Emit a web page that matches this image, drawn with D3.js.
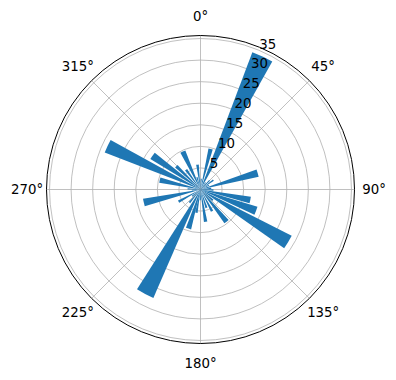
<!DOCTYPE html>
<html>
<head>
<meta charset="utf-8">
<script src="https://cdn.jsdelivr.net/npm/d3@7"></script>
<style>
  html, body { margin: 0; padding: 0; background: #ffffff; }
  svg { display: block; }
  text { font-family: "DejaVu Sans", sans-serif; font-size: 13.33px; fill: #000; }
</style>
</head>
<body>
<svg id="chart" width="396" height="380"></svg>
<script>
// ---- data (angles in degrees, clockwise from north) ----
const barAngles = [353, 4, 14, 25, 36, 45, 54, 63, 74, 84, 92, 102, 111, 121, 131, 141, 152, 162, 171, 181, 190, 197, 208, 220, 231, 241, 257, 266, 273, 283, 295, 305, 314, 324, 335, 344];
const barValues = [5.8, 2.5, 9.7, 34.0, 2.0, 3.0, 3.7, 2.2, 13.8, 2.5, 3.0, 11.8, 13.8, 23.7, 3.8, 9.6, 5.7, 4.5, 7.6, 2.5, 5.5, 9.5, 27.4, 4.0, 2.5, 5.8, 13.5, 2.0, 3.0, 9.7, 23.8, 13.6, 7.8, 5.7, 9.7, 3.0];
const barWidths = [6, 6, 6, 8.6, 6, 6, 6, 6, 7.5, 6, 6, 7.5, 8.2, 8.2, 6, 7.5, 6, 6, 6, 6, 6, 7.5, 9, 6, 6, 6, 7.5, 6, 6, 7.5, 7.8, 7.5, 6, 6, 7.5, 6];
const rTicks = [5, 10, 15, 20, 25, 30, 35];
const thetaTicks = [0, 45, 90, 135, 180, 225, 270, 315];
const thetaLabels = ["0°", "45°", "90°", "135°", "180°", "225°", "270°", "315°"];
const rMax = 35.7;

// ---- layout ----
const cx = 200.5, cy = 189.5, R = 154;
const svg = d3.select("#chart");
const g = svg.append("g").attr("transform", `translate(${cx},${cy})`);

const r = d3.scaleLinear().domain([0, rMax]).range([0, R]);
const rad = d3.scaleLinear().domain([0, 360]).range([0, 2 * Math.PI]);

// grid circles
g.append("g").selectAll("circle").data(rTicks).join("circle")
  .attr("r", d => r(d)).attr("fill", "none")
  .attr("stroke", "#b0b0b0").attr("stroke-width", 0.8);

// angular grid lines
g.append("g").selectAll("line").data(thetaTicks).join("line")
  .attr("x1", 0).attr("y1", 0)
  .attr("x2", d => R * Math.sin(rad(d)))
  .attr("y2", d => -R * Math.cos(rad(d)))
  .attr("stroke", "#b0b0b0").attr("stroke-width", 0.8);

// bars
const bars = barAngles.map((a, i) => ({ a, v: barValues[i], w: barWidths[i] }));
const arc = d3.arc()
  .innerRadius(0)
  .outerRadius(d => r(d.v))
  .startAngle(d => rad(d.a - d.w / 2))
  .endAngle(d => rad(d.a + d.w / 2));
g.append("g").selectAll("path").data(bars).join("path")
  .attr("d", arc).attr("fill", "#1f77b4");

// outer spine
g.append("circle").attr("r", R).attr("fill", "none")
  .attr("stroke", "#000").attr("stroke-width", 1);

// theta labels
const labR = R + 19.5;
g.append("g").selectAll("text").data(thetaTicks).join("text")
  .attr("x", d => labR * Math.sin(rad(d)))
  .attr("y", d => -labR * Math.cos(rad(d)))
  .attr("text-anchor", "middle")
  .attr("dominant-baseline", "central")
  .text((d, i) => thetaLabels[i]);

// radial labels at 22.5 degrees
const rl = rad(22.5);
g.append("g").selectAll("text").data(rTicks).join("text")
  .attr("x", d => r(d) * Math.sin(rl) + 1)
  .attr("y", d => -r(d) * Math.cos(rl) - 1.5)
  .attr("text-anchor", "start")
  .text(d => d);
</script>
</body>
</html>
